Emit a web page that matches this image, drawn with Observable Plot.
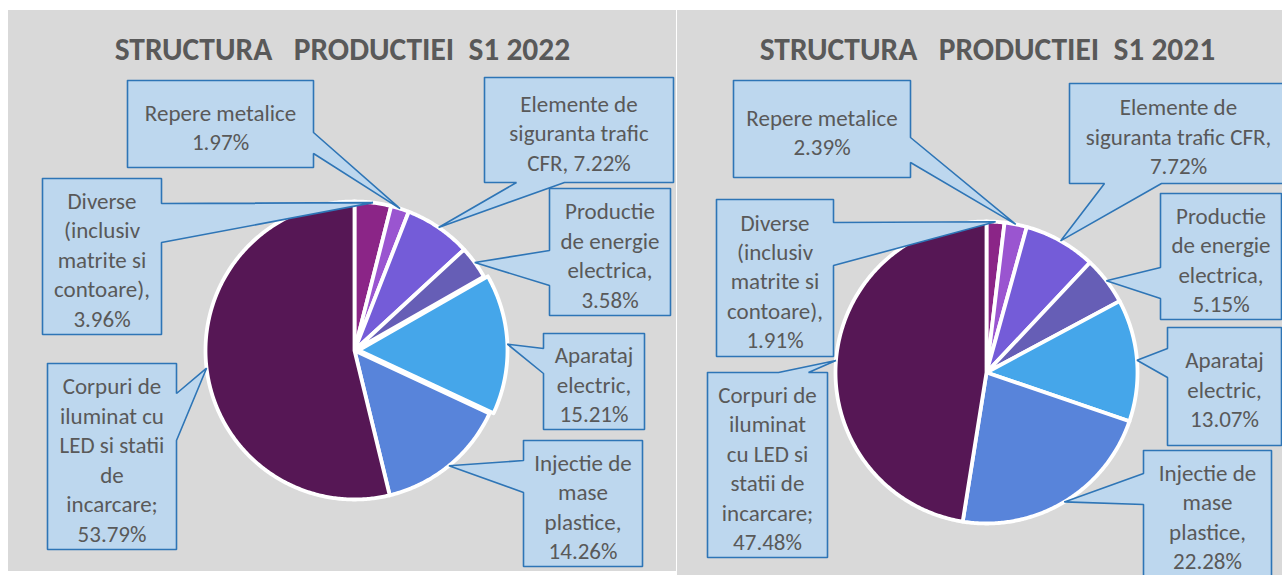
<!DOCTYPE html>
<html><head><meta charset="utf-8">
<script src="https://cdn.jsdelivr.net/npm/d3@7"></script>
<script src="https://cdn.jsdelivr.net/npm/@observablehq/plot@0.6"></script>
<style>
html,body{margin:0;padding:0;background:#fff;overflow:hidden;}
#chart svg{display:block;overflow:hidden;}
</style>
</head><body><div id="chart"></div>
<script>
// ---------- DATA ----------
const categories = [
  "Diverse (inclusiv matrite si contoare)",
  "Repere metalice",
  "Elemente de siguranta trafic CFR",
  "Productie de energie electrica",
  "Aparataj electric",
  "Injectie de mase plastice",
  "Corpuri de iluminat cu LED si statii de incarcare"
];
const values2022 = [3.96, 1.97, 7.22, 3.58, 15.21, 14.26, 53.79];
const values2021 = [1.91, 2.39, 7.72, 5.15, 13.07, 22.28, 47.48];
const sliceColors = ["#8b2587", "#9a55d0", "#745cd8", "#665eb6", "#45a6ea", "#5884da", "#561755"];
const titles = ["STRUCTURA   PRODUCTIEI  S1 2022", "STRUCTURA   PRODUCTIEI  S1 2021"];
// label wording as in the picture ({v} = value)
const labels2022 = [
  "Diverse\n(inclusiv\nmatrite si\ncontoare),\n{v}",
  "Repere metalice\n{v}",
  "Elemente de\nsiguranta trafic\nCFR, {v}",
  "Productie\nde energie\nelectrica,\n{v}",
  "Aparataj\nelectric,\n{v}",
  "Injectie de\nmase\nplastice,\n{v}",
  "Corpuri de\niluminat cu\nLED si statii\nde\nincarcare;\n{v}"
];
const labels2021 = [
  "Diverse\n(inclusiv\nmatrite si\ncontoare),\n{v}",
  "Repere metalice\n{v}",
  "Elemente de\nsiguranta trafic CFR,\n{v}",
  "Productie\nde energie\nelectrica,\n{v}",
  "Aparataj\nelectric,\n{v}",
  "Injectie de\nmase\nplastice,\n{v}",
  "Corpuri de\niluminat\ncu LED si\nstatii de\nincarcare;\n{v}"
];

// ---------- LAYOUT ----------
const W = 1282, H = 575;
const panels = [
  {x1: 8, x2: 676, y1: 10, y2: 571},
  {x1: 677, x2: 1282, y1: 10, y2: 575}
];
const titlePos = [{x: 342, y: 49}, {x: 987, y: 49}];
const pies = [
  {cx: 354, cy: 350, r: 149, explode: [0, 0, 0, 0, 4, 0, 0]},
  {cx: 986, cy: 372, r: 151, explode: [0, 0, 0, 0, 0, 0, 0]}
];
// callout boxes [x0, y0, x1, y1, side, a, b]
const boxes2022 = [
  [42, 178, 161, 334, "right", 203, 242],
  [127, 80, 313, 167, "right", 132, 153],
  [484, 77, 673, 182, "bottom", 516, 564],
  [549, 188, 670, 315, "left", 250, 285],
  [543, 333, 644, 429, "left", 348, 373],
  [523, 440, 642, 566, "left", 460, 492],
  [47, 363, 176, 549, "right", 393, 440]
];
const boxes2021 = [
  [716, 199, 833, 356, "right", 222, 265],
  [733, 80, 910, 177, "right", 137, 162],
  [1069, 83, 1287, 183, "bottom", 1104, 1161],
  [1160, 193, 1281, 319, "left", 267, 298],
  [1167, 327, 1281, 445, "left", 348, 377],
  [1143, 450, 1271, 576, "left", 473, 504],
  [707, 372, 827, 557, "top", 778, 808]
];

const fmt = v => v.toFixed(2) + "%";

const slicePts = [], calloutPts = [], labelData = [];
function build(values, labels, pie, boxes, id) {
  const arcs = d3.pie().sort(null).value(d => d)(values);
  arcs.forEach((a, i) => {
    const mid = (a.startAngle + a.endAngle) / 2;
    const ex = pie.explode[i];
    const cx = pie.cx + ex * Math.sin(mid), cy = pie.cy - ex * Math.cos(mid);
    const key = id + "-" + i;
    const fill = sliceColors[i];
    slicePts.push({key, fill, x: cx, y: cy});
    const n = Math.max(2, Math.ceil((a.endAngle - a.startAngle) / 0.01));
    for (let k = 0; k <= n; k++) {
      const t = a.startAngle + (a.endAngle - a.startAngle) * k / n;
      slicePts.push({key, fill, x: cx + pie.r * Math.sin(t), y: cy - pie.r * Math.cos(t)});
    }
    slicePts.push({key, fill, x: cx, y: cy});
    // callout
    const tip = {x: cx + pie.r * Math.sin(mid), y: cy - pie.r * Math.cos(mid)};
    const [x0, y0, x1, y1, side, p, q] = boxes[i];
    const pts = [[x0, y0]];
    if (side === "top") pts.push([p, y0], [tip.x, tip.y], [q, y0]);
    pts.push([x1, y0]);
    if (side === "right") pts.push([x1, p], [tip.x, tip.y], [x1, q]);
    pts.push([x1, y1]);
    if (side === "bottom") pts.push([q, y1], [tip.x, tip.y], [p, y1]);
    pts.push([x0, y1]);
    if (side === "left") pts.push([x0, q], [tip.x, tip.y], [x0, p]);
    pts.push([x0, y0]);
    const ckey = "c" + key;
    pts.forEach(([x, y]) => calloutPts.push({key: ckey, x, y}));
    labelData.push({
      x: (x0 + x1) / 2,
      y: (y0 + y1) / 2 + 2,
      text: labels[i].replace("{v}", fmt(values[i]))
    });
  });
}
build(values2022, labels2022, pies[0], boxes2022, "a");
build(values2021, labels2021, pies[1], boxes2021, "b");

const titleData = titles.map((t, i) => ({...titlePos[i], text: t}));

const chart = Plot.plot({
  width: W, height: H, margin: 0,
  x: {domain: [0, W], range: [0, W], axis: null},
  y: {domain: [0, H], range: [0, H], axis: null},
  color: {type: "identity"},
  style: {fontFamily: "Carlito, Calibri, Lato, sans-serif", background: "#ffffff", overflow: "hidden"},
  marks: [
    Plot.rect(panels, {x1: "x1", x2: "x2", y1: "y1", y2: "y2", fill: "#d9d9d9"}),
    Plot.text(titleData, {x: "x", y: "y", text: "text", fontSize: 31.5, fontWeight: "bold", fill: "#595959"}),
    Plot.line(slicePts, {x: "x", y: "y", z: "key", fill: "fill", stroke: "#ffffff", strokeWidth: 3.8, strokeLinejoin: "round", curve: "linear"}),
    Plot.line(calloutPts, {x: "x", y: "y", z: "key", fill: "#bdd7ee", stroke: "#2e75b6", strokeWidth: 1.6, strokeLinejoin: "miter", curve: "linear"}),
    Plot.text(labelData, {x: "x", y: "y", text: "text", fontSize: 23, lineHeight: 1.28, fill: "#595959", lineAnchor: "middle"})
  ]
});
document.getElementById("chart").appendChild(chart);
</script>
</body></html>
